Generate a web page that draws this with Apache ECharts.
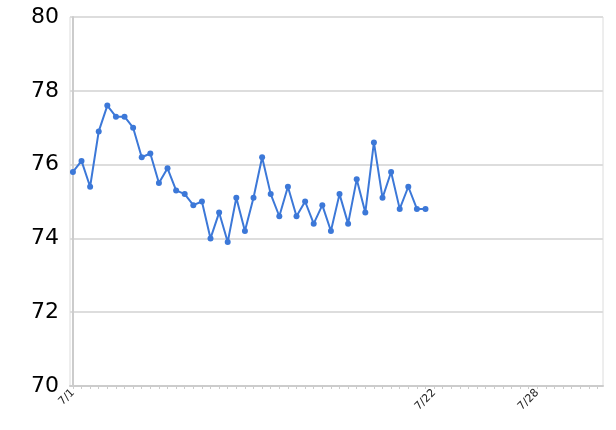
<!DOCTYPE html>
<html>
<head>
<meta charset="utf-8">
<script src="https://cdn.jsdelivr.net/npm/echarts@6/dist/echarts.min.js"></script>
<style>html,body{margin:0;padding:0;background:#fff}#c{width:616px;height:430px}</style>
</head>
<body>
<div id="c"></div>
<script>
// readings twice a day starting 7/1 00:00 (x = days since 7/1)
const stepDays = 0.5;
const values = [75.8, 76.1, 75.4, 76.9, 77.6, 77.3, 77.3, 77.0, 76.2, 76.3,
  75.5, 75.9, 75.3, 75.2, 74.9, 75.0, 74.0, 74.7, 73.9, 75.1,
  74.2, 75.1, 76.2, 75.2, 74.6, 75.4, 74.6, 75.0, 74.4, 74.9,
  74.2, 75.2, 74.4, 75.6, 74.7, 76.6, 75.1, 75.8, 74.8, 75.4,
  74.8, 74.8];
const labelDays = [0, 21, 27];
const labelTexts = ['7/1', '7/22', '7/28'];
const yTicks = [70, 72, 74, 76, 78, 80];

const data = values.map((v, i) => [i * stepDays, v]);
const tickDays = [];
for (let d = 0; d <= 30.5; d += stepDays) tickDays.push(d);

const chart = echarts.init(document.getElementById('c'));
chart.setOption({
  animation: false,
  grid: { left: 70, right: 13, top: 17, bottom: 44, show: true, borderColor: '#dcdcdc', borderWidth: 1 },
  xAxis: {
    type: 'value', min: -0.17, max: 30.82,
    axisLine: { show: true, lineStyle: { color: '#cccccc', width: 2 } },
    axisTick: { show: true, customValues: tickDays, length: 3, lineStyle: { color: '#cccccc' } },
    splitLine: { show: false },
    axisLabel: {
      customValues: labelDays, rotate: 45, fontSize: 11, color: '#222', fontFamily: 'DejaVu Sans', margin: 5,
      formatter: v => { const i = labelDays.indexOf(Math.round(v)); return i >= 0 ? labelTexts[i] : ''; }
    }
  },
  yAxis: {
    type: 'value', min: 70, max: 80, interval: 2,
    axisLine: { show: true, lineStyle: { color: '#cccccc', width: 2 } },
    axisTick: { show: false },
    splitLine: { lineStyle: { color: '#dddddd', width: 2 } },
    axisLabel: { fontSize: 22, color: '#000', fontFamily: 'DejaVu Sans', margin: 11, padding: [3, 0, 0, 0],
      customValues: yTicks }
  },
  series: [{
    type: 'line', data: data,
    lineStyle: { color: '#3c78d8', width: 2 },
    itemStyle: { color: '#3c78d8' },
    symbol: 'circle', symbolSize: 6, showSymbol: true
  }]
});
</script>
</body>
</html>
